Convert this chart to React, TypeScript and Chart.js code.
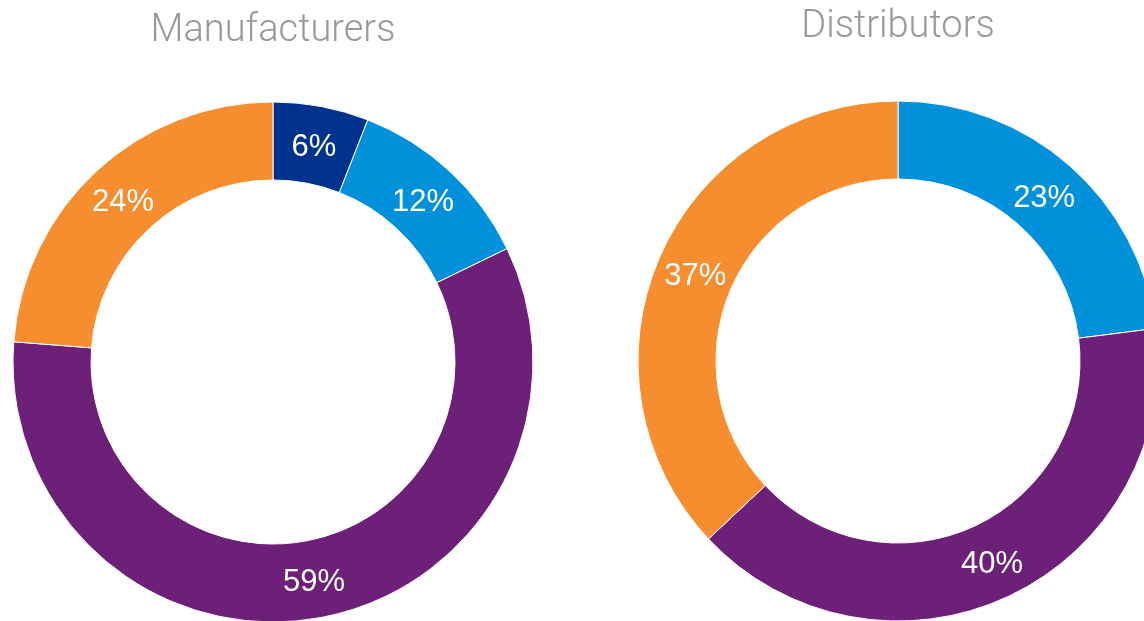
import React, { useEffect, useRef } from "react";
import { Chart, registerables } from "chart.js";

Chart.register(...registerables);

const manufacturerLabels = ["Segment A", "Segment B", "Segment C", "Segment D"];
const manufacturerValues = [6, 12, 59, 24];
const manufacturerColors = ["#00338D", "#0091DA", "#6D2077", "#F68D2E"];

const distributorLabels = ["Segment B", "Segment C", "Segment D"];
const distributorValues = [23, 40, 37];
const distributorColors = ["#0091DA", "#6D2077", "#F68D2E"];

const labelPlugin = {
  id: "sliceLabels",
  afterDatasetsDraw(chart: any) {
    const ctx = chart.ctx;
    const meta = chart.getDatasetMeta(0);
    const values = chart.data.datasets[0].data;
    ctx.save();
    ctx.fillStyle = "#ffffff";
    ctx.font = "400 31px 'Liberation Sans', Arial, sans-serif";
    ctx.textAlign = "center";
    ctx.textBaseline = "middle";
    meta.data.forEach((arc: any, i: number) => {
      const p = arc.tooltipPosition();
      ctx.fillText(values[i] + "%", p.x, p.y + 3);
    });
    ctx.restore();
  },
};

function Donut(props: {
  title: string;
  labels: string[];
  values: number[];
  colors: string[];
  left: number;
  width: number;
  height: number;
  padX: number;
  titleTop: number;
  titleBottom: number;
}) {
  const ref = useRef<HTMLCanvasElement>(null);
  useEffect(() => {
    const chart = new Chart(ref.current as HTMLCanvasElement, {
      type: "doughnut",
      data: {
        labels: props.labels,
        datasets: [
          {
            data: props.values,
            backgroundColor: props.colors,
            borderColor: "#ffffff",
            borderWidth: 1,
            hoverOffset: 0,
          },
        ],
      },
      options: {
        responsive: false,
        animation: false,
        devicePixelRatio: 1,
        radius: 260,
        cutout: "70%",
        layout: { padding: { left: props.padX, right: props.padX, top: 0, bottom: 0 } },
        plugins: {
          legend: { display: false },
          tooltip: { enabled: false },
          title: {
            display: true,
            text: props.title,
            color: "#999999",
            font: { family: "Roboto, 'Liberation Sans', sans-serif", size: 38, weight: "300", lineHeight: 1.2 },
            padding: { top: props.titleTop, bottom: props.titleBottom },
          },
        },
      } as any,
      plugins: [labelPlugin],
    });
    return () => chart.destroy();
  }, []);
  return (
    <canvas
      ref={ref}
      width={props.width}
      height={props.height}
      style={{ position: "absolute", left: props.left, top: 0, width: props.width, height: props.height }}
    />
  );
}

export default function App() {
  return (
    <div style={{ position: "fixed", left: 0, top: 0, width: 1144, height: 621, overflow: "hidden", background: "#fff" }}>
      <Donut
        title="Manufacturers"
        labels={manufacturerLabels}
        values={manufacturerValues}
        colors={manufacturerColors}
        left={0}
        width={546}
        height={622}
        padX={13}
        titleTop={8.2}
        titleBottom={48.2}
      />
      <Donut
        title="Distributors"
        labels={distributorLabels}
        values={distributorValues}
        colors={distributorColors}
        left={578}
        width={640}
        height={622}
        padX={60}
        titleTop={4.9}
        titleBottom={49.5}
      />
    </div>
  );
}
